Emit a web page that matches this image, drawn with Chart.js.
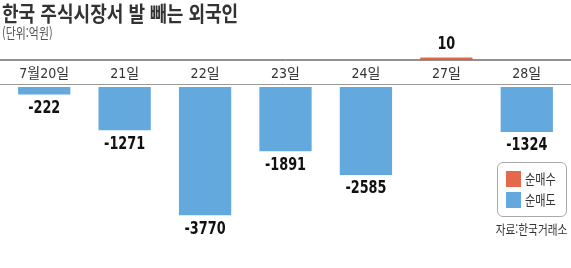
<!DOCTYPE html>
<html lang="ko">
<head>
<meta charset="utf-8">
<script src="https://cdn.jsdelivr.net/npm/chart.js@4.4.1/dist/chart.umd.min.js"></script>
<style>
  html, body { margin: 0; padding: 0; background: #fff; }
  #wrap { position: relative; width: 571px; height: 268px; overflow: hidden; font-family: 'Noto Sans CJK KR', sans-serif; }
  canvas { position: absolute; left: 0; }
  #topChart { top: 0; }
  #bottomChart { top: 87px; }
  .txt { position: absolute; white-space: nowrap; transform-origin: left top; }
  #title { left: 2px; top: -3px; font-size: 21px; font-weight: 700; color: #333; transform: scaleX(0.86); }
  #unit { left: 2px; top: 22px; font-size: 14px; color: #555; transform: scaleX(0.78); }
  #legend { position: absolute; left: 497px; top: 162px; width: 68px; height: 53px; border: 1px solid #aaa; border-radius: 6px; }
  .item { position: absolute; left: 8px; height: 16px; }
  .item .box { position: absolute; left: 0; top: 0; width: 15px; height: 16px; }
  .item .lbl { position: absolute; left: 19px; top: -3px; font-size: 14px; color: #333; transform: scaleX(0.8); transform-origin: left top; white-space: nowrap; }
  #source { right: 4px; top: 219px; font-size: 13px; color: #333; transform: scaleX(0.82); transform-origin: right top; }
</style>
</head>
<body>
<div id="wrap">
  <canvas id="topChart" width="571" height="87"></canvas>
  <canvas id="bottomChart" width="571" height="181"></canvas>
  <div class="txt" id="title">한국 주식시장서 발 빼는 외국인</div>
  <div class="txt" id="unit">(단위:억원)</div>
  <div id="legend"></div>
  <div class="txt" id="source">자료:한국거래소</div>
</div>
<script>
// 날짜별 외국인 순매수/순매도 (억원)
const days = ['7월20일', '21일', '22일', '23일', '24일', '27일', '28일'];
const netValues = [-222, -1271, -3770, -1891, -2585, 10, -1324];
const seriesNames = ['순매수', '순매도'];
const seriesColors = ['#E4684A', '#64A9DD'];

const buyValues = netValues.map(v => v > 0 ? v : null);
const sellValues = netValues.map(v => v < 0 ? v : null);

const labelFont = '"Liberation Sans Narrow", "DejaVu Sans Condensed", "Noto Sans CJK KR", sans-serif';

// 막대 끝에 값 표시 (가로로 좁힌 글꼴)
const valueLabels = {
    id: 'valueLabels',
    afterDatasetsDraw(chart) {
        const ctx = chart.ctx;
        chart.data.datasets.forEach((ds, i) => {
            chart.getDatasetMeta(i).data.forEach((bar, j) => {
                const v = ds.data[j];
                if (v === null) return;
                const y = v < 0 ? bar.y + 14 : bar.y - 13;
                ctx.save();
                ctx.translate(bar.x, y);
                ctx.scale(0.84, 1);
                ctx.font = 'bold 17px ' + labelFont;
                ctx.fillStyle = '#111';
                ctx.textAlign = 'center';
                ctx.textBaseline = 'middle';
                ctx.fillText(String(v), 0, 0);
                ctx.restore();
            });
        });
    }
};

// 기준선 (검은 선 + 회색 선)
const baseLines = {
    id: 'baseLines',
    afterDraw(chart) {
        const ctx = chart.ctx;
        const w = chart.width;
        ctx.save();
        ctx.lineWidth = 1;
        ctx.strokeStyle = '#222';
        ctx.beginPath();
        ctx.moveTo(0, chart.chartArea.bottom + 0.5);
        ctx.lineTo(w, chart.chartArea.bottom + 0.5);
        ctx.stroke();
        ctx.strokeStyle = '#999';
        ctx.beginPath();
        ctx.moveTo(0, 84.5);
        ctx.lineTo(w, 84.5);
        ctx.stroke();
        ctx.restore();
    }
};

const topChart = new Chart(document.getElementById('topChart'), {
    type: 'bar',
    data: {
        labels: days,
        datasets: [{
            label: seriesNames[0],
            data: buyValues,
            backgroundColor: seriesColors[0],
            minBarLength: 2,
            barPercentage: 0.65,
            categoryPercentage: 1
        }]
    },
    options: {
        responsive: false,
        animation: false,
        layout: { padding: { left: 4, right: 4, top: 36, bottom: 4 } },
        plugins: { legend: { display: false }, tooltip: { enabled: false } },
        scales: {
            x: {
                grid: { display: false, drawTicks: false },
                border: { display: false },
                ticks: {
                    padding: 6,
                    color: '#333',
                    maxRotation: 0,
                    autoSkip: false,
                    font: { family: labelFont, size: 14 }
                }
            },
            y: { display: false, min: 0, max: 680 }
        }
    },
    plugins: [baseLines, valueLabels]
});

const bottomChart = new Chart(document.getElementById('bottomChart'), {
    type: 'bar',
    data: {
        labels: days,
        datasets: [{
            label: seriesNames[1],
            data: sellValues,
            backgroundColor: seriesColors[1],
            barPercentage: 0.65,
            categoryPercentage: 1
        }]
    },
    options: {
        responsive: false,
        animation: false,
        layout: { padding: { left: 4, right: 4, top: 0, bottom: 28 } },
        plugins: { legend: { display: false }, tooltip: { enabled: false } },
        scales: {
            x: { display: false },
            y: { display: false, min: -4500, max: 0 }
        }
    },
    plugins: [valueLabels]
});

// 범례
const legend = document.getElementById('legend');
[topChart.data.datasets[0], bottomChart.data.datasets[0]].forEach((ds, i) => {
    const item = document.createElement('div');
    item.className = 'item';
    item.style.top = (8 + i * 21) + 'px';
    item.innerHTML = `<div class="box" style="background:${ds.backgroundColor}"></div><div class="lbl">${ds.label}</div>`;
    legend.appendChild(item);
});
</script>
</body>
</html>
